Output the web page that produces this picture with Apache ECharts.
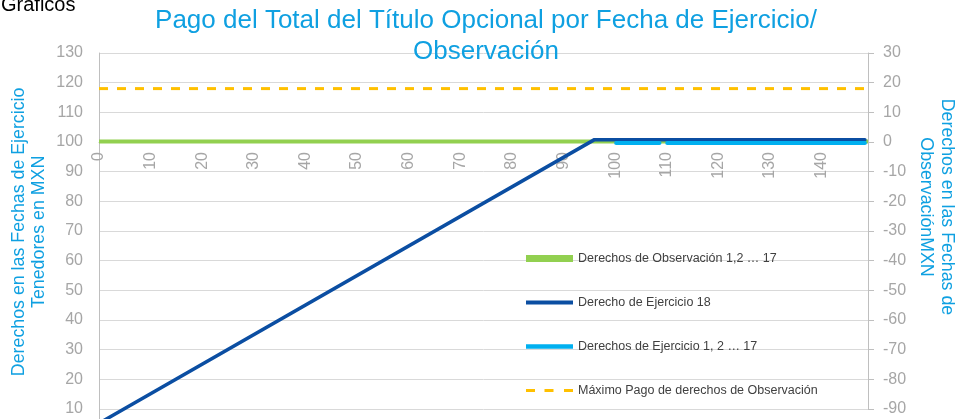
<!DOCTYPE html>
<html>
<head>
<meta charset="utf-8">
<script src="https://cdn.jsdelivr.net/npm/echarts@6/dist/echarts.min.js"></script>
<style>html,body{margin:0;padding:0;background:#fff}#c{width:955px;height:419px}</style>
</head>
<body>
<div id="c"></div>
<script>
// ---- data ----
const seriesNames = [
  'Derechos de Observación 1,2 … 17',
  'Derecho de Ejercicio 18',
  'Derechos de Ejercicio 1, 2 … 17',
  'Máximo Pago de derechos de Observación'
];
const observacion = [[0, 100.2], [149, 100.2]];
const ejercicio18 = [[0, 5.2], [96, 100.8], [148.4, 100.8]];
const ejercicio1a17 = [[100.2, -0.35], [108.6, -0.35], ['-', '-'], [110.1, -0.35], [148.4, -0.35]];
const maximoPago = [[0, 118], [148.4, 118]];
const xTicks = { min: 0, max: 149, interval: 10 };
const leftTicks = { min: 0, max: 130, interval: 10 };
const rightTicks = { min: -90, max: 30, interval: 10 };

const FONT = 'Liberation Sans, Arial, sans-serif';
const GREY = '#A6A6A6';
const BLUE_T = '#0FA0E1';
const C_GREEN = '#92D050', C_DARK = '#0B4EA2', C_LIGHT = '#00B0F0', C_ORANGE = '#FFC000';

const PL = 99, PW = 769, PT = 53;

const chart = echarts.init(document.getElementById('c'), null, { renderer: 'canvas' });
chart.setOption({
  animation: false,
  textStyle: { fontFamily: FONT },
  title: [
    { text: 'Graficos', left: 1, top: -4.5, padding: 0,
      textStyle: { fontSize: 20, color: '#000', fontWeight: 'normal', fontFamily: FONT } },
    { text: 'Pago del Total del Título Opcional por Fecha de Ejercicio/\nObservación',
      left: 486, top: 5.5, textAlign: 'center', padding: 0,
      textStyle: { fontSize: 26, color: BLUE_T, fontWeight: 'normal', lineHeight: 31, fontFamily: FONT } }
  ],
  legend: {
    orient: 'vertical', left: 526, top: 252, padding: 0,
    itemWidth: 47, itemHeight: 8, itemGap: 31,
    textStyle: { fontSize: 12.5, color: '#404040', fontFamily: FONT },
    itemStyle: { borderWidth: 0 },
    data: [
      { name: seriesNames[0], icon: 'path://M0,0H47V7H0Z' },
      { name: seriesNames[1], icon: 'path://M0,0H47V4H0Z' },
      { name: seriesNames[2], icon: 'path://M0,0H47V4.5H0Z' },
      { name: seriesNames[3], icon: 'path://M0,0H9V3H0Z M18.5,0H27.5V3H18.5Z M38,0H47V3H38Z' }
    ]
  },
  grid: [
    { left: PL, top: PT, width: PW, height: 385.7, outerBoundsMode: 'none', containLabel: false },
    { left: PL, top: PT, width: PW, height: 356, outerBoundsMode: 'none', containLabel: false },
    { left: PL, top: PT, width: PW, height: 89, outerBoundsMode: 'none', containLabel: false }
  ],
  xAxis: [
    { type: 'value', gridIndex: 2, position: 'bottom', min: xTicks.min, max: xTicks.max, interval: xTicks.interval,
      axisLine: { show: true, onZero: false, lineStyle: { color: '#BFBFBF' } },
      axisTick: { show: false }, splitLine: { show: false },
      axisLabel: { rotate: 90, color: GREY, fontSize: 16, margin: 10, fontFamily: FONT, showMaxLabel: false } },
    { type: 'value', gridIndex: 0, min: xTicks.min, max: xTicks.max, interval: xTicks.interval, show: false },
    { type: 'value', gridIndex: 1, min: xTicks.min, max: xTicks.max, interval: xTicks.interval, show: false }
  ],
  yAxis: [
    { type: 'value', gridIndex: 0, position: 'left', min: leftTicks.min, max: leftTicks.max, interval: leftTicks.interval,
      axisLine: { show: true, onZero: false, lineStyle: { color: '#BFBFBF' } },
      axisTick: { show: false },
      splitLine: { show: true, lineStyle: { color: '#D9D9D9' } },
      axisLabel: { color: GREY, fontSize: 16, margin: 16, fontFamily: FONT },
      name: 'Derechos en las Fechas de Ejercicio\nTenedores en MXN',
      nameLocation: 'middle', nameGap: 50, nameMoveOverlap: false,
      nameTextStyle: { color: BLUE_T, fontSize: 17.8, lineHeight: 20, fontFamily: FONT, padding: [0, 0, 0, 28] } },
    { type: 'value', gridIndex: 1, position: 'right', min: rightTicks.min, max: rightTicks.max, interval: rightTicks.interval,
      axisLine: { show: true, onZero: false, lineStyle: { color: '#BFBFBF' } },
      axisTick: { show: true, length: 6, lineStyle: { color: '#BFBFBF' } },
      splitLine: { show: false },
      axisLabel: { color: GREY, fontSize: 16, margin: 15, fontFamily: FONT },
      name: 'Derechos en las Fechas de\nObservaciónMXN',
      nameLocation: 'middle', nameGap: 47.5, nameRotate: -90, nameMoveOverlap: false,
      nameTextStyle: { color: BLUE_T, fontSize: 17.8, lineHeight: 20.7, fontFamily: FONT, padding: [0, 48, 0, 0] } },
    { type: 'value', gridIndex: 2, min: 0, max: 1, show: false }
  ],
  series: [
    { name: seriesNames[0], type: 'line', xAxisIndex: 1, yAxisIndex: 0, data: observacion,
      symbol: 'none', color: C_GREEN, itemStyle: { color: C_GREEN },
      lineStyle: { color: C_GREEN, width: 4 }, z: 2 },
    { name: seriesNames[1], type: 'line', xAxisIndex: 1, yAxisIndex: 0, data: ejercicio18,
      symbol: 'none', color: C_DARK, itemStyle: { color: C_DARK },
      lineStyle: { color: C_DARK, width: 3.5, cap: 'round', join: 'round' }, z: 3 },
    { name: seriesNames[2], type: 'line', xAxisIndex: 2, yAxisIndex: 1, data: ejercicio1a17,
      symbol: 'none', color: C_LIGHT, itemStyle: { color: C_LIGHT }, connectNulls: false,
      lineStyle: { color: C_LIGHT, width: 4, cap: 'round' }, z: 4 },
    { name: seriesNames[3], type: 'line', xAxisIndex: 1, yAxisIndex: 0, data: maximoPago,
      symbol: 'none', color: C_ORANGE, itemStyle: { color: C_ORANGE },
      lineStyle: { color: C_ORANGE, width: 3, type: [9, 9] }, z: 2 }
  ]
});
</script>
</body>
</html>
